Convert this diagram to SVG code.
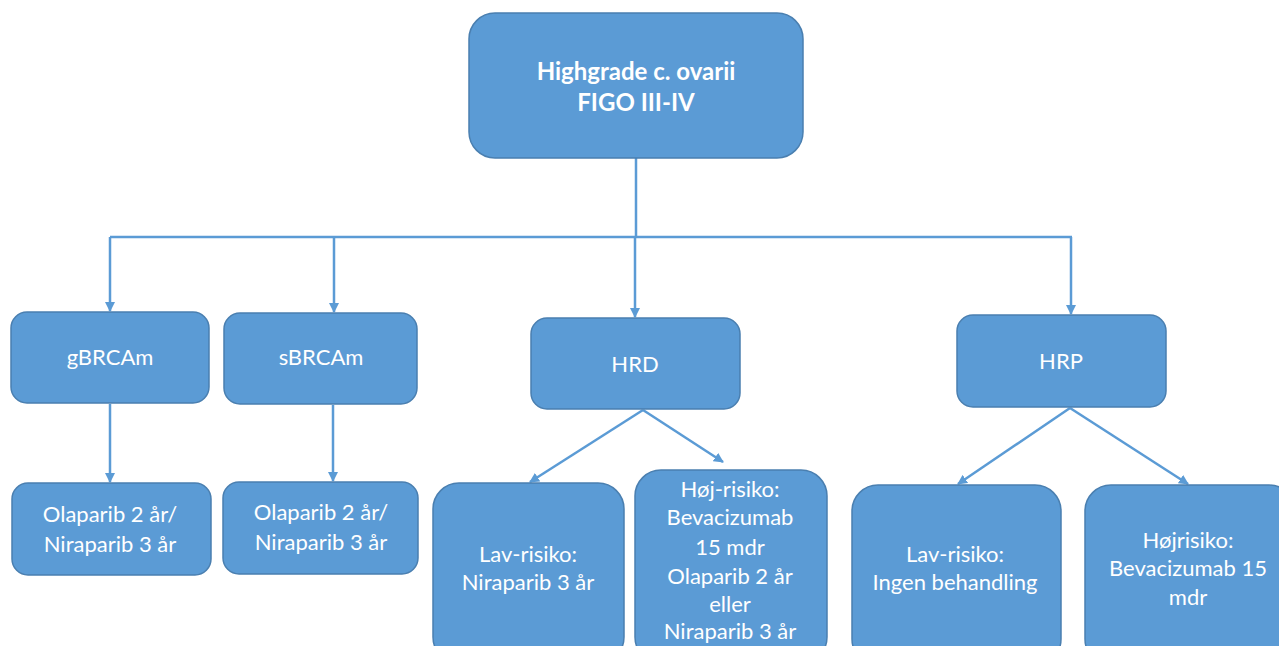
<svg xmlns="http://www.w3.org/2000/svg" width="1279" height="646" viewBox="0 0 1279 646">
<style>
.box{fill:#5B9BD5;stroke:#4A7FB0;stroke-width:1.5}
.t{font-family:Lato,"Open Sans",sans-serif;font-size:22px;fill:#FFFFFF;text-anchor:middle}
.b{font-weight:bold;font-size:24px}
.c{stroke:#5B9BD5;stroke-width:2.5;fill:none}
</style>
<defs>
<marker id="ah" viewBox="0 0 10 10" refX="9" refY="5" markerWidth="4" markerHeight="4" orient="auto" markerUnits="strokeWidth">
<path d="M0,0 L10,5 L0,10 z" fill="#5B9BD5"/>
</marker>
</defs>
<rect width="1279" height="646" fill="#FFFFFF"/>
<g id="connectors">
<line class="c" x1="636" y1="158" x2="636" y2="237"/>
<line class="c" x1="110" y1="237" x2="1072" y2="237"/>
<line class="c" x1="110" y1="237" x2="110" y2="311" marker-end="url(#ah)"/>
<line class="c" x1="334" y1="237" x2="334" y2="312" marker-end="url(#ah)"/>
<line class="c" x1="635" y1="237" x2="635" y2="317" marker-end="url(#ah)"/>
<line class="c" x1="1071" y1="237" x2="1071" y2="314" marker-end="url(#ah)"/>
<line class="c" x1="110" y1="404" x2="110" y2="482" marker-end="url(#ah)"/>
<line class="c" x1="333" y1="405" x2="333" y2="481" marker-end="url(#ah)"/>
<line class="c" x1="643" y1="410" x2="530" y2="482" marker-end="url(#ah)"/>
<line class="c" x1="643" y1="410" x2="723" y2="462" marker-end="url(#ah)"/>
<line class="c" x1="1070" y1="408" x2="958" y2="484" marker-end="url(#ah)"/>
<line class="c" x1="1070" y1="408" x2="1188" y2="484" marker-end="url(#ah)"/>
</g>
<g id="root">
<rect class="box" x="469" y="13" width="334" height="145" rx="26"/>
<text class="t b" x="636" y="80">Highgrade c. ovarii</text>
<text class="t b" x="636" y="111">FIGO III-IV</text>
</g>
<g id="gbrca">
<rect class="box" x="11" y="312" width="198" height="91" rx="16"/>
<text class="t" x="110" y="365">gBRCAm</text>
</g>
<g id="sbrca">
<rect class="box" x="224" y="313" width="193" height="91" rx="16"/>
<text class="t" x="321" y="365">sBRCAm</text>
</g>
<g id="hrd">
<rect class="box" x="531" y="318" width="209" height="91" rx="16"/>
<text class="t" x="635" y="372">HRD</text>
</g>
<g id="hrp">
<rect class="box" x="957" y="315" width="209" height="92" rx="16"/>
<text class="t" x="1061" y="369">HRP</text>
</g>
<g id="gbrca-tx">
<rect class="box" x="12" y="483" width="199" height="92" rx="16"/>
<text class="t" x="110" y="522">Olaparib 2 år/</text>
<text class="t" x="110" y="552">Niraparib 3 år</text>
</g>
<g id="sbrca-tx">
<rect class="box" x="223" y="482" width="195" height="92" rx="16"/>
<text class="t" x="321" y="520">Olaparib 2 år/</text>
<text class="t" x="321" y="550">Niraparib 3 år</text>
</g>
<g id="hrd-low">
<rect class="box" x="433" y="483" width="191" height="180" rx="26"/>
<text class="t" x="528" y="562">Lav-risiko:</text>
<text class="t" x="528" y="590">Niraparib 3 år</text>
</g>
<g id="hrd-high">
<rect class="box" x="635" y="470" width="192" height="193" rx="26"/>
<text class="t" x="730" y="497">Høj-risiko:</text>
<text class="t" x="730" y="525">Bevacizumab</text>
<text class="t" x="730" y="555">15 mdr</text>
<text class="t" x="730" y="584">Olaparib 2 år</text>
<text class="t" x="730" y="612">eller</text>
<text class="t" x="730" y="639">Niraparib 3 år</text>
</g>
<g id="hrp-low">
<rect class="box" x="852" y="485" width="209" height="180" rx="26"/>
<text class="t" x="955" y="562">Lav-risiko:</text>
<text class="t" x="955" y="590">Ingen behandling</text>
</g>
<g id="hrp-high">
<rect class="box" x="1085" y="485" width="210" height="180" rx="26"/>
<text class="t" x="1188" y="548">Højrisiko:</text>
<text class="t" x="1188" y="576">Bevacizumab 15</text>
<text class="t" x="1188" y="605">mdr</text>
</g>
</svg>
